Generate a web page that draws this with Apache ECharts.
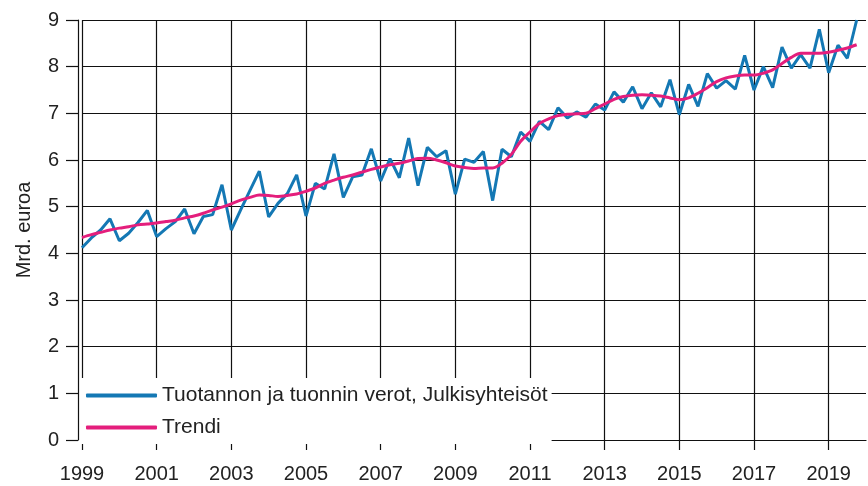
<!DOCTYPE html>
<html>
<head>
<meta charset="utf-8">
<script src="https://cdn.jsdelivr.net/npm/echarts@6/dist/echarts.min.js"></script>
<style>
html, body { margin: 0; padding: 0; background: #fff; }
#main { width: 868px; height: 486px; }
</style>
</head>
<body>
<div id="main"></div>
<script>
// quarterly, 1999Q1 .. 2019Q4 (Mrd. euroa)
var years = [1999, 2000, 2001, 2002, 2003, 2004, 2005, 2006, 2007, 2008, 2009,
    2010, 2011, 2012, 2013, 2014, 2015, 2016, 2017, 2018, 2019];
var quarters = ['Q1', 'Q2', 'Q3', 'Q4'];

var verot = [
    4.12, 4.33, 4.50, 4.74,
    4.27, 4.43, 4.66, 4.92,
    4.36, 4.53, 4.68, 4.95,
    4.42, 4.79, 4.83, 5.47,
    4.50, 4.93, 5.35, 5.76,
    4.78, 5.07, 5.28, 5.68,
    4.80, 5.50, 5.38, 6.13,
    5.20, 5.64, 5.68, 6.24,
    5.55, 6.03, 5.62, 6.47,
    5.45, 6.27, 6.07, 6.20,
    5.27, 6.02, 5.95, 6.18,
    5.13, 6.23, 6.07, 6.60,
    6.40, 6.83, 6.65, 7.12,
    6.90, 7.03, 6.92, 7.20,
    7.07, 7.46, 7.24, 7.57,
    7.10, 7.44, 7.14, 7.72,
    6.97, 7.62, 7.15, 7.85,
    7.54, 7.70, 7.52, 8.24,
    7.50, 8.00, 7.55, 8.42,
    7.97, 8.26, 7.97, 8.80,
    7.87, 8.46, 8.18, 9.00
];

var trendi = [
    4.34, 4.40, 4.45, 4.50,
    4.54, 4.57, 4.61, 4.63,
    4.65, 4.68, 4.71, 4.76,
    4.80, 4.86, 4.93, 4.99,
    5.06, 5.14, 5.20, 5.25,
    5.24, 5.22, 5.24, 5.27,
    5.33, 5.40, 5.50, 5.57,
    5.63, 5.68, 5.74, 5.80,
    5.85, 5.90, 5.93, 5.98,
    6.03, 6.04, 6.00, 5.94,
    5.87, 5.84, 5.82, 5.83,
    5.83, 5.93, 6.12, 6.40,
    6.60, 6.78, 6.88, 6.95,
    6.98, 6.99, 7.00, 7.10,
    7.20, 7.30, 7.36, 7.39,
    7.40, 7.39, 7.37, 7.33,
    7.29, 7.33, 7.43, 7.55,
    7.68, 7.76, 7.80, 7.82,
    7.82, 7.86, 7.93, 8.07,
    8.20, 8.29, 8.29, 8.29,
    8.31, 8.35, 8.40, 8.47
];

var seriesNames = ['Tuotannon ja tuonnin verot, Julkisyhteisöt', 'Trendi'];
var yTitle = 'Mrd. euroa';

var categories = [];
years.forEach(function (y) {
    quarters.forEach(function (q) { categories.push(y + q); });
});
categories.push('2020Q1'); // axis runs one quarter past the data

var font = "'Liberation Sans', Arial, sans-serif";
var gridColor = '#111';

function everyOtherYear(index) {
    return index % 8 === 0;
}

var myChart = echarts.init(document.getElementById('main'));
var option = {
    animation: false,
    textStyle: { fontFamily: font },
    grid: { left: 82, right: 2, top: 20, bottom: 46 },
    legend: {
        orient: 'vertical',
        left: 80,
        top: 378,
        backgroundColor: '#fff',
        padding: [7, 4, 6, 6],
        icon: 'roundRect',
        itemWidth: 71,
        itemHeight: 4,
        itemGap: 11,
        textStyle: { fontSize: 21, color: '#222', fontFamily: font }
    },
    xAxis: {
        type: 'category',
        data: categories,
        boundaryGap: false,
        offset: 7,
        axisLine: { lineStyle: { color: gridColor, width: 1.2 } },
        axisTick: { interval: everyOtherYear, length: 10, lineStyle: { color: gridColor, width: 1.2 } },
        axisLabel: {
            interval: everyOtherYear,
            margin: 17,
            fontSize: 20,
            color: '#222',
            formatter: function (v) { return v.slice(0, 4); }
        },
        splitLine: { show: true, interval: everyOtherYear, lineStyle: { color: gridColor, width: 1.2 } }
    },
    yAxis: {
        type: 'value',
        min: 0,
        max: 9,
        interval: 1,
        offset: 4,
        name: yTitle,
        nameLocation: 'middle',
        nameGap: 44,
        nameTextStyle: { fontSize: 20, color: '#222' },
        axisLine: { show: true, lineStyle: { color: gridColor, width: 1.2 } },
        axisTick: { show: true, length: 12, lineStyle: { color: gridColor, width: 1.2 } },
        axisLabel: { margin: 19, fontSize: 20, color: '#222' },
        splitLine: { show: true, lineStyle: { color: gridColor, width: 1.2 } }
    },
    series: [{
        name: seriesNames[0],
        type: 'line',
        data: verot,
        symbol: 'none',
        lineStyle: { color: '#1478b4', width: 3 },
        itemStyle: { color: '#1478b4' }
    }, {
        name: seriesNames[1],
        type: 'line',
        data: trendi,
        symbol: 'none',
        smooth: 0.3,
        lineStyle: { color: '#e41e7c', width: 3 },
        itemStyle: { color: '#e41e7c' }
    }]
};
myChart.setOption(option);
</script>
</body>
</html>
